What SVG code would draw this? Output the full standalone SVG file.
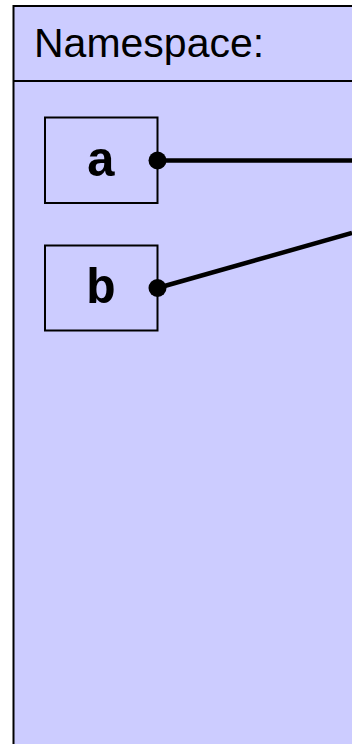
<svg xmlns="http://www.w3.org/2000/svg" width="352" height="744" viewBox="0 0 352 744">
<style>
.frame{fill:#ccccff;stroke:#000;stroke-width:2}
.box{fill:none;stroke:#000;stroke-width:2}
.lbl{font-family:"Courier New","Nimbus Mono PS","FreeMono","Liberation Mono",monospace;font-weight:bold;font-size:50px;fill:#000;text-anchor:middle}
.title{font-family:"Liberation Sans",Arial,sans-serif;font-size:41px;fill:#000}
.conn{stroke:#000;stroke-width:4.5;fill:none}
</style>
<g id="namespace">
<rect class="frame" x="13.5" y="6" width="360" height="760"/>
<line x1="13.5" y1="81" x2="360" y2="81" stroke="#000" stroke-width="2"/>
<text class="title" x="34" y="57">Namespace:</text>
</g>
<g id="node-a">
<rect class="box" x="45" y="117.5" width="112.5" height="85.5"/>
<text class="lbl" x="101" y="176">a</text>
</g>
<g id="node-b">
<rect class="box" x="45" y="245.5" width="112.5" height="85"/>
<text class="lbl" x="101" y="303">b</text>
</g>
<g id="connectors">
<line class="conn" x1="157.5" y1="160.5" x2="352" y2="160.5"/>
<line class="conn" x1="157.5" y1="288" x2="352" y2="233"/>
<circle cx="157.5" cy="160.5" r="9" fill="#000"/>
<circle cx="157.5" cy="288" r="9" fill="#000"/>
</g>
</svg>
